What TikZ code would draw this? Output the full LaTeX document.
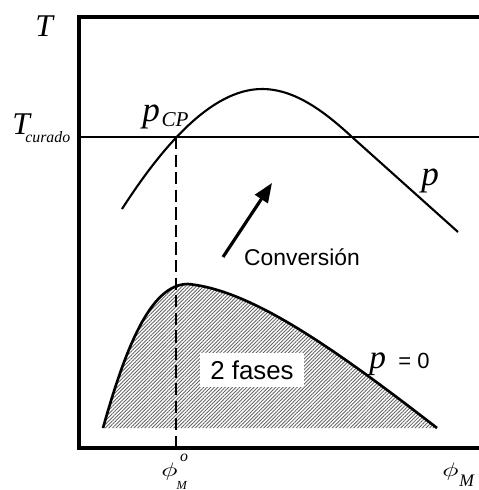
\RequirePackage{fix-cm}
\documentclass[tikz,border=0pt]{standalone}
\usepackage{graphicx}
\usepackage{fontspec}
\setmainfont{Liberation Sans}
\newfontfamily\tnr{Liberation Serif}
\usetikzlibrary{arrows.meta, patterns.meta}
\newcommand{\fsz}[1]{\fontsize{#1}{#1}\selectfont}
\newcommand{\bigphi}{\scalebox{1.55}[1.12]{$\phi$}}

\begin{document}
\begin{tikzpicture}[x=0.02cm, y=-0.02cm,
    axis/.style={line width=2.3pt},
    curve/.style={line width=1.2pt},
    lbl/.style={inner sep=0pt, anchor=base west, font=\tnr\itshape\fsz{18}},
    txt/.style={inner sep=0pt, font=\fsz{13}},
    hatch/.style={pattern={Lines[angle=45, distance=1.45pt, line width=0.5pt]},
                  pattern color=black!60},
    >={Triangle[length=11pt, width=8.5pt]}
  ]
    \useasboundingbox (0,0) rectangle (479,490);

    % frame of the diagram
    \coordinate (tr) at (479,17);
    \coordinate (tl) at (79,17);
    \coordinate (bl) at (79,448);
    \coordinate (br) at (479,448);
    \draw[axis] (tr) -- (tl) -- (bl) -- (br);

    % two-phase region
    \fill[hatch] (103,428) .. controls (125,350) and (150,284) .. (188,284)
        .. controls (250,290) and (330,345) .. (437,428) -- cycle;
    \draw[line width=1.5pt] (103,428) .. controls (125,350) and (150,284) .. (188,284)
        .. controls (250,290) and (330,345) .. (437,428);
    \node[fill=white, minimum width=2.1cm, minimum height=0.68cm, inner sep=0pt,
          font=\fsz{14.7}] (fases) at (252,370) {2 fases};

    % curing temperature and gel curve
    \coordinate (cur) at (79,137);
    \coordinate (cure) at (479,137);
    \draw[curve] (cur) -- (cure);
    \draw[curve] (122,209) .. controls (160,150) and (210,89) .. (262,89)
        .. controls (295,89) and (325,112) .. (352,137) -- (458,232);
    \coordinate (cp) at (176,137);
    \draw[curve, dash pattern=on 7pt off 3pt] (cp) -- (cp |- bl);

    % conversion arrow
    \coordinate (convA) at (223,257);
    \coordinate (convB) at (272,183);
    \draw[->, line width=1.8pt] (convA) -- (convB);
    \node[txt] (conv) at (302,257) {Conversión};

    % labels
    \node[lbl] (tlab) at (35,36) {T};
    \node[lbl] (tcur) at (12,134) {T\kern-2.6pt\raisebox{-5pt}{\fsz{9}curado}};
    \node[lbl, font=\tnr\itshape\fsz{20}] (pcp) at (142,121)
        {p\kern1pt\raisebox{-3.4pt}{\fsz{12}CP}};
    \node[lbl, font=\tnr\itshape\fsz{20}] (plab) at (421,185) {p};
    \node[lbl, font=\tnr\itshape\fsz{19}] (pzero) at (369,368)
        {p\hspace{7pt}{\normalfont\fsz{12.5}= 0}};
    \node[lbl, font=\fsz{10}] (phio) at (161,476)
        {\bigphi\kern1.5pt\raisebox{8pt}{\tnr\itshape\fsz{9}o}\kern-6.5pt\raisebox{-7.5pt}{\tnr\itshape\fsz{7}M}};
    \node[lbl, font=\fsz{10}] (phim) at (442,476)
        {\bigphi\kern0.5pt\raisebox{-6pt}{\tnr\itshape\fsz{10}M}};
  \end{tikzpicture}
\end{document}
